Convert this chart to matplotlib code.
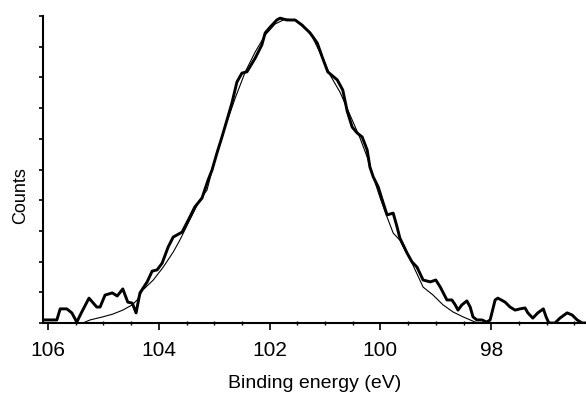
import numpy as np
import matplotlib.pyplot as plt
from matplotlib.ticker import MultipleLocator, NullFormatter

plt.rcParams['font.family'] = ['Liberation Sans', 'DejaVu Sans']

# Espectro medido (curva gruesa), energia de enlace en eV y cuentas (unidades de marca)
be_data = [106.05, 105.84, 105.78, 105.66, 105.57, 105.48, 105.39, 105.26, 105.12, 105.06,
           104.97, 104.84, 104.75, 104.65, 104.56, 104.48, 104.41, 104.34, 104.21, 104.12,
           104.03, 103.94, 103.83, 103.74, 103.58, 103.44, 103.35, 103.22, 103.11, 103.04,
           102.95, 102.86, 102.77, 102.68, 102.59, 102.50, 102.41, 102.26, 102.14, 102.08,
           101.99, 101.87, 101.81, 101.69, 101.54, 101.42, 101.27, 101.14, 101.05, 100.95,
           100.78, 100.68, 100.60, 100.51, 100.42, 100.33, 100.24, 100.19, 100.13, 100.04,
           99.95, 99.88, 99.77, 99.70, 99.65, 99.52, 99.43, 99.34, 99.23, 99.10,
           99.00, 98.92, 98.80, 98.71, 98.65, 98.60, 98.53, 98.44, 98.38, 98.33,
           98.26, 98.17, 98.08, 98.02, 97.93, 97.88, 97.75, 97.66, 97.57, 97.48,
           97.39, 97.34, 97.25, 97.16, 97.06, 97.01, 96.96, 96.85, 96.76, 96.63,
           96.54, 96.45, 96.36, 96.29]
counts_data = [0.10, 0.10, 0.46, 0.46, 0.33, 0.03, 0.36, 0.81, 0.52, 0.52,
               0.91, 0.98, 0.88, 1.11, 0.68, 0.65, 0.33, 0.98, 1.34, 1.69,
               1.73, 1.95, 2.48, 2.80, 2.96, 3.45, 3.78, 4.07, 4.66, 4.98,
               5.54, 6.06, 6.61, 7.17, 7.85, 8.14, 8.18, 8.63, 9.06, 9.45,
               9.64, 9.87, 9.93, 9.87, 9.87, 9.71, 9.45, 9.12, 8.66, 8.18,
               7.92, 7.59, 6.90, 6.38, 6.19, 6.06, 5.64, 5.08, 4.76, 4.43,
               3.91, 3.52, 3.58, 3.13, 2.77, 2.28, 1.99, 1.82, 1.40, 1.34,
               1.40, 1.17, 0.75, 0.75, 0.59, 0.42, 0.59, 0.72, 0.52, 0.20,
               0.10, 0.10, 0.03, 0.10, 0.75, 0.81, 0.68, 0.52, 0.42, 0.46,
               0.49, 0.33, 0.16, 0.33, 0.46, 0.20, 0.00, 0.00, 0.16, 0.33,
               0.26, 0.10, 0.00, 0.00]

# Ajuste (curva fina)
be_fit = [106.05, 105.37, 105.24, 105.01, 104.83, 104.65, 104.48, 104.39, 104.29, 104.10,
          103.92, 103.74, 103.62, 103.44, 103.26, 103.13, 102.99, 102.81, 102.62, 102.44,
          102.26, 102.08, 101.90, 101.72, 101.54, 101.40, 101.23, 101.07, 100.91, 100.73,
          100.55, 100.37, 100.24, 100.13, 100.01, 99.88, 99.77, 99.65, 99.43, 99.23,
          99.05, 98.87, 98.69, 98.51, 98.29, 98.20, 97.48]
counts_fit = [0.00, 0.00, 0.10, 0.20, 0.29, 0.42, 0.59, 0.75, 1.07, 1.40,
              1.82, 2.31, 2.70, 3.36, 4.01, 4.33, 5.31, 6.35, 7.33, 8.18,
              8.83, 9.38, 9.74, 9.90, 9.87, 9.71, 9.32, 8.73, 8.08, 7.52,
              6.78, 6.03, 5.41, 4.76, 4.10, 3.45, 2.93, 2.70, 1.95, 1.17,
              0.91, 0.59, 0.36, 0.20, 0.03, 0.00, 0.00]

xticks = [106, 104, 102, 100, 98]

fig = plt.figure(figsize=(5.86, 3.95), dpi=100)
ax = fig.add_axes([43/586, 72/395, 1 - 43/586, 307/395])

ax.plot(be_fit, counts_fit, color='black', lw=0.8)
ax.plot(be_data, counts_data, color='black', lw=2.1)

ax.set_xlim(106.09, 96.29)
ax.set_ylim(0, 10)

for s in ['top', 'right']:
    ax.spines[s].set_visible(False)
ax.spines['left'].set_linewidth(1.5)
ax.spines['bottom'].set_linewidth(1.5)

ax.set_xticks(xticks)
ax.set_xticklabels([str(t) for t in xticks])
ax.xaxis.set_minor_locator(MultipleLocator(0.5))
ax.tick_params(axis='x', which='major', direction='out', length=5, width=1.2,
               labelsize=15, pad=8)
ax.tick_params(axis='x', which='minor', direction='inout', length=3, width=1)

ax.yaxis.set_major_locator(MultipleLocator(1))
ax.yaxis.set_major_formatter(NullFormatter())
ax.tick_params(axis='y', direction='out', length=3, width=1.2)

fig.text(315/586, 1 - 383/395, 'Binding energy (eV)', ha='center', va='center', fontsize=14)
fig.text(21/586, 1 - 196/395, 'Counts', ha='center', va='center', rotation=90, fontsize=13)

fig.savefig('out.png', dpi=100)
